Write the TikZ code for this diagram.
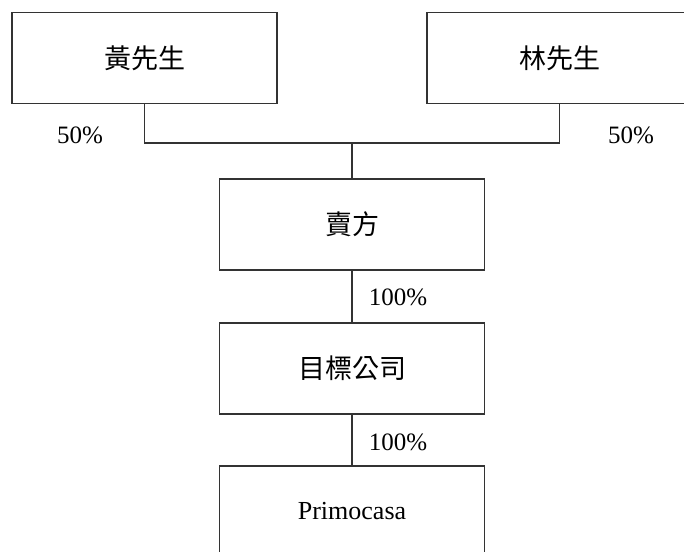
\documentclass[tikz,border=0pt]{standalone}
\usepackage{fontspec}
\setmainfont{Liberation Serif}
\newfontfamily\cjk{Noto Sans CJK TC}
\usetikzlibrary{positioning}

\begin{document}
\begin{tikzpicture}[x=0.5pt, y=-0.5pt,
		holder/.style={draw=black!80, line width=0.6pt, minimum width=132.5pt,
			minimum height=45.5pt, inner sep=0pt, font=\cjk\fontsize{13.5}{16}\selectfont},
		share/.style={font=\fontsize{12.5}{15}\selectfont, inner sep=0pt},
		link/.style={draw=black!80, line width=0.6pt}]
		\clip (0,0) rectangle (684,551);

		% Define nodes
		\node[holder] (huang) at (144.5,58) {黃先生};
		\node[holder] (lin) at (559.5,58) {林先生};
		\node[holder] (seller) at (352,224.5) {賣方};
		\node[holder] (target) at (352,368.5) {目標公司};
		\node[holder, font=\fontsize{13}{16}\selectfont] (primo) at (352,511.5) {Primocasa};
		\coordinate (bus) at (352,143);

		% Percentages
		\node[share] (pHuang) at (80,135) {50\%};
		\node[share] (pLin) at (631,135) {50\%};
		\node[share] (pSeller) at (398,297) {100\%};
		\node[share] (pTarget) at (398,442) {100\%};

		% Connect the nodes
		\draw[link] (huang.south) |- (bus) -| (lin.south);
		\draw[link] (bus) -- (seller.north);
		\draw[link] (seller.south) -- (target.north);
		\draw[link] (target.south) -- (primo.north);
	\end{tikzpicture}
\end{document}
